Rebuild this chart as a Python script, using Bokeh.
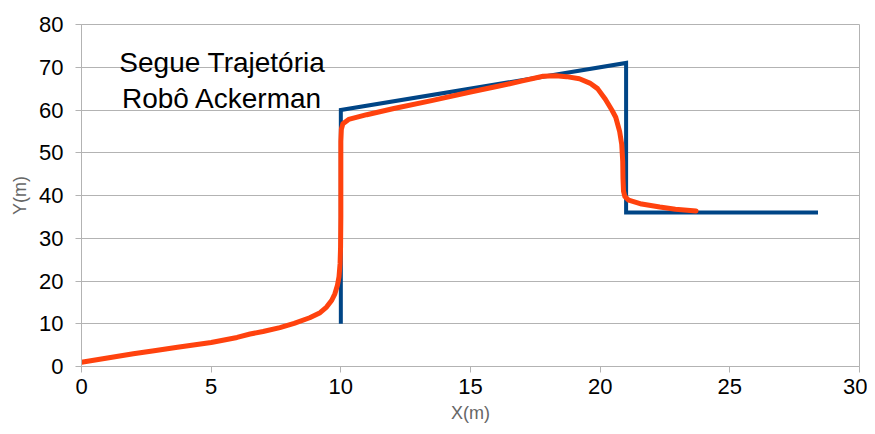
from bokeh.plotting import figure
from bokeh.models import Range1d, Label, FixedTicker
from bokeh.embed import file_html
from bokeh.resources import INLINE

# Reference path (blue)
ref_x = [10, 10, 21, 21, 28.4]
ref_y = [10, 60, 71, 36, 36]

# Robot trajectory (orange)
robot_x = [0, 1, 2, 2.8, 3.7, 5, 6, 6.5, 7, 7.65, 8.2, 8.8, 9.2, 9.45, 9.65, 9.77,
           9.87, 9.93, 9.97, 9.99, 10.0, 10.0, 10.0, 10.02, 10.08, 10.3, 11.0, 12,
           13.5, 15, 16.1, 17, 17.8, 18.3, 18.7, 19.2, 19.6, 19.9, 20.2, 20.45,
           20.6, 20.75, 20.83, 20.87, 20.88, 20.9, 20.95, 21.1, 21.6, 22.3, 22.9, 23.7]
robot_y = [1.0, 2.0, 3.0, 3.7, 4.5, 5.6, 6.8, 7.6, 8.2, 9.1, 10.1, 11.4, 12.6, 13.9,
           15.5, 17, 19, 21, 24, 28, 35, 45, 52.6, 55.5, 56.8, 57.8, 58.9, 60.3,
           62.2, 64.2, 65.6, 66.8, 67.9, 68.0, 67.8, 67.3, 66.3, 65, 62.5, 60,
           58.3, 55, 52, 48, 44, 41, 39.8, 38.9, 38.0, 37.3, 36.8, 36.4]

x_ticks = [0, 5, 10, 15, 20, 25, 30]
y_ticks = [0, 10, 20, 30, 40, 50, 60, 70, 80]
title_lines = ["Segue Trajetória", "Robô Ackerman"]

FONT = "Liberation Sans"

p = figure(frame_width=778, frame_height=342, output_backend="svg",
           toolbar_location=None, x_range=Range1d(0, 30), y_range=Range1d(0, 80),
           min_border_left=81, min_border_right=8, min_border_top=24, min_border_bottom=60)
p.background_fill_color = "white"
p.border_fill_color = "white"
p.outline_line_color = "#b3b3b3"
p.outline_line_width = 1

p.xgrid.grid_line_color = None
p.ygrid.grid_line_color = "#b3b3b3"
p.ygrid.grid_line_width = 1

p.xaxis.ticker = FixedTicker(ticks=x_ticks)
p.yaxis.ticker = FixedTicker(ticks=y_ticks)
for ax in (p.xaxis[0], p.yaxis[0]):
    ax.axis_line_color = "#b3b3b3"
    ax.major_tick_line_color = "#b3b3b3"
    ax.major_tick_in = 0
    ax.major_tick_out = 6
    ax.minor_tick_line_color = None
    ax.major_label_text_font = FONT
    ax.major_label_text_font_size = "22px"
    ax.major_label_text_color = "black"
    ax.axis_label_text_font = FONT
    ax.axis_label_text_font_size = "18px"
    ax.axis_label_text_font_style = "normal"
    ax.axis_label_text_color = "#666666"

p.xaxis.axis_label = "X(m)"
p.yaxis.axis_label = "Y(m)"
p.xaxis.major_label_standoff = 6
p.yaxis.major_label_standoff = 12
p.xaxis.axis_label_standoff = 6
p.yaxis.axis_label_standoff = 6

p.line(ref_x, ref_y, line_color="#004586", line_width=4, line_join="miter")
p.line(robot_x, robot_y, line_color="#ff420e", line_width=5, line_join="round", line_cap="round")

p.add_layout(Label(x=5.43, y=71.2, text=title_lines[0], text_align="center",
                   text_baseline="alphabetic", text_font=FONT, text_font_size="28px",
                   text_color="black"))
p.add_layout(Label(x=5.43, y=62.6, text=title_lines[1], text_align="center",
                   text_baseline="alphabetic", text_font=FONT, text_font_size="28px",
                   text_color="black"))

open("out.html", "w").write(file_html(p, INLINE))
